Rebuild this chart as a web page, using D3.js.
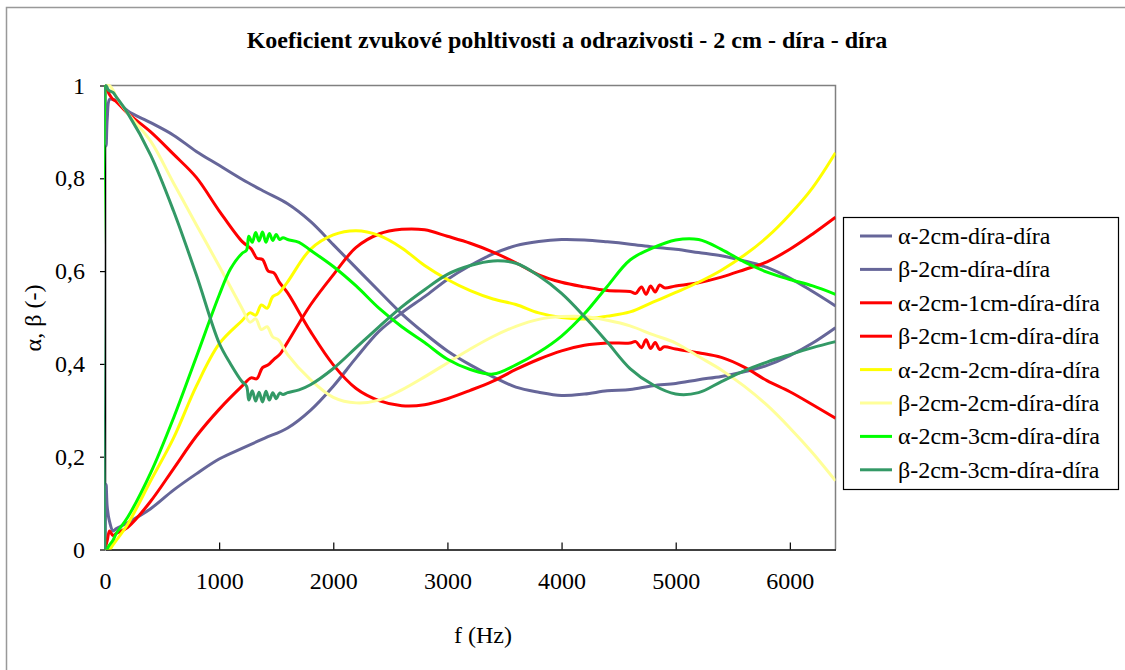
<!DOCTYPE html>
<html>
<head>
<meta charset="utf-8">
<script src="https://cdn.jsdelivr.net/npm/d3@7"></script>
<style>
  body { margin: 0; background: #fff; }
  svg text { font-family: "Liberation Serif", "Times New Roman", Times, "DejaVu Serif", "Noto Serif", serif; fill: #000; }
</style>
</head>
<body>
<div id="chart"></div>
<script>
// series names (legend order)
const seriesNames = [
    "α-2cm-díra-díra", "β-2cm-díra-díra",
    "α-2cm-1cm-díra-díra", "β-2cm-1cm-díra-díra",
    "α-2cm-2cm-díra-díra", "β-2cm-2cm-díra-díra",
    "α-2cm-3cm-díra-díra", "β-2cm-3cm-díra-díra"
]
const colors = ["#666699", "#666699", "#ff0000", "#ff0000", "#ffff00", "#ffff99", "#00ff00", "#339966"]

// [f (Hz), value]
const alpha2 = [[0,0],[10,0.14],[20,0.09],[40,0.06],[70,0.04],[100,0.045],[200,0.058],[400,0.088],[600,0.128],[800,0.163],[1000,0.195],[1200,0.218],[1400,0.24],[1600,0.262],[1800,0.3],[2000,0.352],[2200,0.413],[2400,0.47],[2600,0.51],[2800,0.545],[3000,0.582],[3200,0.612],[3400,0.637],[3600,0.655],[3800,0.664],[4000,0.668],[4200,0.667],[4400,0.663],[4600,0.658],[4800,0.652],[5000,0.647],[5200,0.64],[5400,0.633],[5600,0.622],[5800,0.608],[6000,0.585],[6200,0.556],[6400,0.525]]
const beta2 = [[0,1],[10,0.87],[20,0.93],[40,0.97],[70,0.97],[100,0.968],[200,0.945],[400,0.92],[600,0.893],[800,0.858],[1000,0.828],[1200,0.798],[1400,0.771],[1600,0.745],[1800,0.707],[2000,0.657],[2200,0.607],[2400,0.557],[2600,0.508],[2800,0.466],[3000,0.428],[3200,0.398],[3400,0.372],[3600,0.35],[3800,0.339],[4000,0.332],[4200,0.335],[4400,0.342],[4600,0.345],[4800,0.353],[5000,0.358],[5200,0.366],[5400,0.373],[5600,0.383],[5800,0.397],[6000,0.418],[6200,0.445],[6400,0.478]]
const alpha21 = [[0,0],[20,0.02],[40,0.04],[70,0.03],[100,0.035],[200,0.048],[400,0.104],[600,0.174],[800,0.244],[1000,0.302],[1200,0.352],[1280,0.37],[1330,0.368],[1380,0.392],[1430,0.398],[1480,0.41],[1530,0.42],[1600,0.447],[1800,0.527],[2000,0.592],[2200,0.651],[2400,0.68],[2600,0.69],[2800,0.689],[3000,0.675],[3200,0.66],[3400,0.641],[3600,0.618],[3800,0.592],[4000,0.576],[4200,0.566],[4400,0.558],[4600,0.556],[4650,0.552],[4700,0.566],[4740,0.55],[4780,0.568],[4820,0.555],[4860,0.57],[4900,0.564],[5000,0.568],[5200,0.575],[5400,0.587],[5600,0.603],[5800,0.62],[6000,0.647],[6200,0.68],[6400,0.716]]
const beta21 = [[0,1],[20,0.99],[40,0.98],[70,0.97],[100,0.965],[200,0.94],[400,0.9],[600,0.852],[800,0.802],[1000,0.73],[1200,0.664],[1280,0.648],[1330,0.628],[1380,0.625],[1430,0.6],[1480,0.596],[1530,0.575],[1600,0.553],[1800,0.47],[2000,0.398],[2200,0.347],[2400,0.321],[2600,0.31],[2800,0.312],[3000,0.325],[3200,0.343],[3400,0.363],[3600,0.388],[3800,0.41],[4000,0.428],[4200,0.44],[4400,0.445],[4600,0.445],[4650,0.448],[4700,0.435],[4740,0.452],[4780,0.433],[4820,0.446],[4860,0.431],[4900,0.437],[5000,0.432],[5200,0.424],[5400,0.414],[5600,0.393],[5800,0.364],[6000,0.34],[6200,0.312],[6400,0.283]]
const alpha22 = [[0,0],[40,0],[70,0.01],[100,0.02],[200,0.055],[400,0.148],[600,0.24],[800,0.352],[1000,0.443],[1200,0.493],[1270,0.51],[1320,0.505],[1370,0.527],[1420,0.52],[1470,0.545],[1520,0.552],[1600,0.577],[1800,0.647],[2000,0.678],[2200,0.687],[2400,0.677],[2600,0.65],[2800,0.612],[3000,0.582],[3200,0.558],[3400,0.54],[3600,0.528],[3800,0.51],[4000,0.5],[4200,0.497],[4400,0.503],[4600,0.512],[4800,0.533],[5000,0.554],[5200,0.576],[5400,0.602],[5600,0.634],[5800,0.673],[6000,0.722],[6200,0.78],[6400,0.855]]
const beta22 = [[0,1],[40,1],[70,0.99],[100,0.975],[200,0.94],[400,0.88],[600,0.79],[800,0.7],[1000,0.611],[1200,0.52],[1270,0.49],[1320,0.497],[1370,0.474],[1420,0.48],[1470,0.458],[1520,0.452],[1600,0.42],[1800,0.366],[2000,0.328],[2200,0.316],[2400,0.322],[2600,0.344],[2800,0.372],[3000,0.402],[3200,0.432],[3400,0.459],[3600,0.481],[3800,0.496],[4000,0.502],[4200,0.502],[4400,0.494],[4600,0.482],[4800,0.463],[5000,0.445],[5200,0.416],[5400,0.387],[5600,0.352],[5800,0.311],[6000,0.262],[6200,0.208],[6400,0.148]]
const alpha23 = [[0,1],[8,0],[40,0.01],[70,0.02],[100,0.035],[200,0.07],[400,0.165],[600,0.283],[800,0.415],[1000,0.548],[1100,0.605],[1200,0.638],[1240,0.645],[1260,0.675],[1290,0.662],[1320,0.683],[1350,0.665],[1380,0.684],[1410,0.662],[1440,0.681],[1470,0.666],[1500,0.679],[1530,0.668],[1560,0.672],[1600,0.668],[1700,0.662],[1800,0.645],[2000,0.61],[2200,0.568],[2400,0.52],[2600,0.48],[2800,0.446],[3000,0.41],[3200,0.388],[3400,0.378],[3600,0.398],[3800,0.425],[4000,0.46],[4200,0.508],[4400,0.567],[4600,0.624],[4800,0.65],[5000,0.667],[5200,0.668],[5400,0.647],[5600,0.62],[5800,0.598],[6000,0.582],[6200,0.568],[6400,0.55]]
const beta23 = [[0,0],[8,1],[30,0.99],[70,0.985],[100,0.975],[200,0.94],[400,0.85],[600,0.73],[800,0.592],[1000,0.445],[1100,0.4],[1200,0.362],[1240,0.352],[1260,0.322],[1290,0.342],[1320,0.32],[1350,0.339],[1380,0.318],[1410,0.341],[1440,0.322],[1470,0.338],[1500,0.325],[1530,0.337],[1560,0.334],[1600,0.338],[1700,0.344],[1800,0.355],[2000,0.39],[2200,0.435],[2400,0.48],[2600,0.523],[2800,0.56],[3000,0.593],[3200,0.612],[3400,0.622],[3600,0.617],[3800,0.59],[4000,0.552],[4200,0.502],[4400,0.447],[4600,0.39],[4800,0.355],[5000,0.335],[5200,0.338],[5400,0.362],[5600,0.385],[5800,0.404],[6000,0.42],[6200,0.435],[6400,0.448]]

const seriesValues = [alpha2, beta2, alpha21, beta21, alpha22, beta22, alpha23, beta23]

const xTicks = [0, 1000, 2000, 3000, 4000, 5000, 6000]
const yTicks = [0, 0.2, 0.4, 0.6, 0.8, 1]

const serif = '"Liberation Serif", "Times New Roman", Times, "DejaVu Serif", "Noto Serif", serif'

function draw() {
    let dimensions = {
        width: 1125,
        height: 670,
        left: 105,
        right: 835.5,
        top: 85.5,
        bottom: 549.5
    }

    const svg = d3.select('#chart')
        .append("svg")
        .attr("width", dimensions.width)
        .attr("height", dimensions.height)
        .style("font-family", serif)

    // outer chart border
    svg.append("rect")
        .attr("x", 6.5).attr("y", 7.5)
        .attr("width", 1140).attr("height", 700)
        .attr("fill", "#fff")
        .attr("stroke", "#999").attr("stroke-width", 1.5)

    // title
    svg.append("text")
        .attr("x", 567).attr("y", 48)
        .attr("text-anchor", "middle")
        .attr("font-size", 24).attr("font-weight", "bold")
        .style("font-family", serif)
        .text("Koeficient zvukové pohltivosti a odrazivosti - 2 cm - díra - díra")

    //////////
    // SCALES //
    //////////
    var x = d3.scaleLinear()
        .domain([0, 6400])
        .range([dimensions.left, dimensions.right])
    var y = d3.scaleLinear()
        .domain([0, 1])
        .range([dimensions.bottom, dimensions.top])

    // plot frame (grey top/right)
    svg.append("path")
        .attr("d", `M${dimensions.left},${dimensions.top}H${dimensions.right}V${dimensions.bottom}`)
        .attr("fill", "none").attr("stroke", "#808080").attr("stroke-width", 1.5)

    // clip lines to the plot area
    svg.append("defs").append("clipPath")
        .attr("id", "clip")
        .append("rect")
        .attr("x", dimensions.left - 1)
        .attr("y", dimensions.top - 2)
        .attr("width", dimensions.right - dimensions.left + 1)
        .attr("height", dimensions.bottom - dimensions.top + 2)

    //////////
    // AXIS //
    //////////
    const xAxis = svg.append("g")
        .attr("transform", `translate(0,${dimensions.bottom})`)
        .call(d3.axisBottom(x).tickValues(xTicks).tickSizeInner(-7).tickSizeOuter(0).tickPadding(22)
            .tickFormat(d3.format("d")))
    xAxis.attr("font-family", null)
    xAxis.select(".domain").attr("stroke", "#000").attr("stroke-width", 1.5)
    xAxis.selectAll(".tick line").attr("stroke", "#000").attr("stroke-width", 1.2)
    xAxis.selectAll("text").attr("font-size", 24)
        .style("font-family", serif)

    const yAxis = svg.append("g")
        .attr("transform", `translate(${dimensions.left},0)`)
        .call(d3.axisLeft(y).tickValues(yTicks).tickSizeInner(5).tickSizeOuter(0).tickPadding(15)
            .tickFormat(d => String(d).replace(".", ",")))
    yAxis.attr("font-family", null)
    yAxis.select(".domain").attr("stroke", "#000").attr("stroke-width", 1.5)
    yAxis.selectAll(".tick line").attr("stroke", "#000").attr("stroke-width", 1.2)
    yAxis.selectAll("text").attr("font-size", 24)
        .style("font-family", serif)

    // axis titles
    svg.append("text")
        .attr("x", 483).attr("y", 643)
        .attr("text-anchor", "middle")
        .attr("font-size", 24)
        .style("font-family", serif)
        .text("f (Hz)")
    svg.append("text")
        .attr("transform", "translate(41,318) rotate(-90)")
        .attr("text-anchor", "middle")
        .attr("font-size", 24)
        .style("font-family", serif)
        .text("α, β (-)")

    //////////
    // LINES //
    //////////
    var line = d3.line()
        .x(d => x(d[0]))
        .y(d => y(d[1]))
        .curve(d3.curveCatmullRom.alpha(0.5))

    svg.append("g")
        .attr("clip-path", "url(#clip)")
        .selectAll("path")
        .data(seriesValues)
        .enter()
        .append("path")
        .attr("d", line)
        .attr("fill", "none")
        .attr("stroke", (d, i) => colors[i])
        .attr("stroke-width", 3)
        .attr("stroke-linejoin", "round")

    //////////
    // LEGEND //
    //////////
    const legend = svg.append("g")
    legend.append("rect")
        .attr("x", 843.5).attr("y", 217.5)
        .attr("width", 275).attr("height", 272)
        .attr("fill", "#fff").attr("stroke", "#000").attr("stroke-width", 1.2)

    const rows = legend.selectAll(".row")
        .data(seriesNames)
        .enter()
        .append("g")
        .attr("transform", (d, i) => `translate(0,${236 + i * 33.4})`)
    rows.append("line")
        .attr("x1", 860).attr("x2", 892)
        .attr("stroke", (d, i) => colors[i])
        .attr("stroke-width", 3)
    rows.append("text")
        .attr("x", 898).attr("y", 8)
        .attr("font-size", 24)
        .style("font-family", serif)
        .text(d => d)
}
draw()
</script>
</body>
</html>
